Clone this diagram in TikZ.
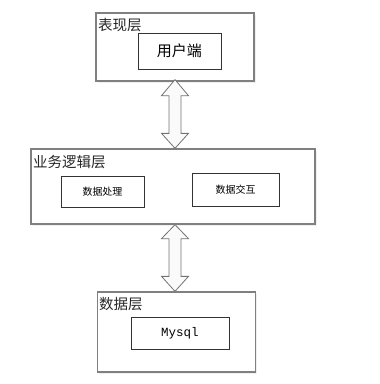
\documentclass[tikz,border=0pt]{standalone}
\usepackage{fontspec}
\newfontfamily\cjk{Noto Sans CJK SC}
\setmonofont{Liberation Mono}
\usetikzlibrary{shadows,calc,positioning}

\tikzset{
  layer/.style={draw=black!50,line width=1.3pt,fill=white,
    drop shadow={opacity=0.12,shadow xshift=1.5pt,shadow yshift=-1.5pt},
    inner sep=0pt},
  part/.style={draw=black!80,line width=0.8pt,fill=white,inner sep=0pt},
  title/.style={anchor=west,inner sep=1pt,text=black!85,font=\cjk\fontsize{14.5}{16}\selectfont},
  dblarrow/.style={draw=black!55,line width=0.8pt,fill=black!2,line join=miter}
}

\begin{document}
\begin{tikzpicture}[x=1pt,y=-1pt]
  \useasboundingbox (0,0) rectangle (380,384);

  % presentation layer
  \node[layer,minimum width=158,minimum height=68] (top) at (175,47) {};
  \node[title] (toptitle) at (97,25) {表现层};
  \node[part,minimum width=83,minimum height=36,
        font=\cjk\fontsize{15}{17}\selectfont] (client) at (179.5,51) {用户端};

  % business logic layer
  \node[layer,minimum width=284,minimum height=75] (mid) at (173,186.5) {};
  \node[title] (midtitle) at (32,162) {业务逻辑层};
  \node[part,minimum width=83,minimum height=31,
        font=\cjk\fontsize{10}{12}\selectfont] (proc) at (102.5,191.5) {数据处理};
  \node[part,minimum width=87,minimum height=33,
        font=\cjk\fontsize{10}{12}\selectfont] (inter) at (235.5,189.5) {数据交互};

  % data layer
  \node[layer,minimum width=158,minimum height=80] (bot) at (176.6,332) {};
  \node[title] (bottitle) at (98,304) {数据层};
  \node[part,minimum width=98,minimum height=32,
        font=\ttfamily\fontsize{12.5}{14}\selectfont] (db) at (180,333) {Mysql};

  % two-way arrows
  \coordinate (a1) at ($(top.south)+(0,-2)$);
  \coordinate (a2) at (a1 |- mid.north);
  \draw[dblarrow] (a1) -- ($(a1)+(13.5,16)$) -- ($(a1)+(6,16)$)
    -- ($(a2)+(6,-15)$) -- ($(a2)+(13.5,-15)$) -- (a2)
    -- ($(a2)+(-13.5,-15)$) -- ($(a2)+(-6,-15)$)
    -- ($(a1)+(-6,16)$) -- ($(a1)+(-13.5,16)$) -- cycle;
  \coordinate (b1) at (a1 |- mid.south);
  \coordinate (b2) at (a1 |- bot.north);
  \draw[dblarrow] (b1) -- ($(b1)+(13.5,14)$) -- ($(b1)+(6,14)$)
    -- ($(b2)+(6,-15)$) -- ($(b2)+(13.5,-15)$) -- (b2)
    -- ($(b2)+(-13.5,-15)$) -- ($(b2)+(-6,-15)$)
    -- ($(b1)+(-6,14)$) -- ($(b1)+(-13.5,14)$) -- cycle;
\end{tikzpicture}
\end{document}
